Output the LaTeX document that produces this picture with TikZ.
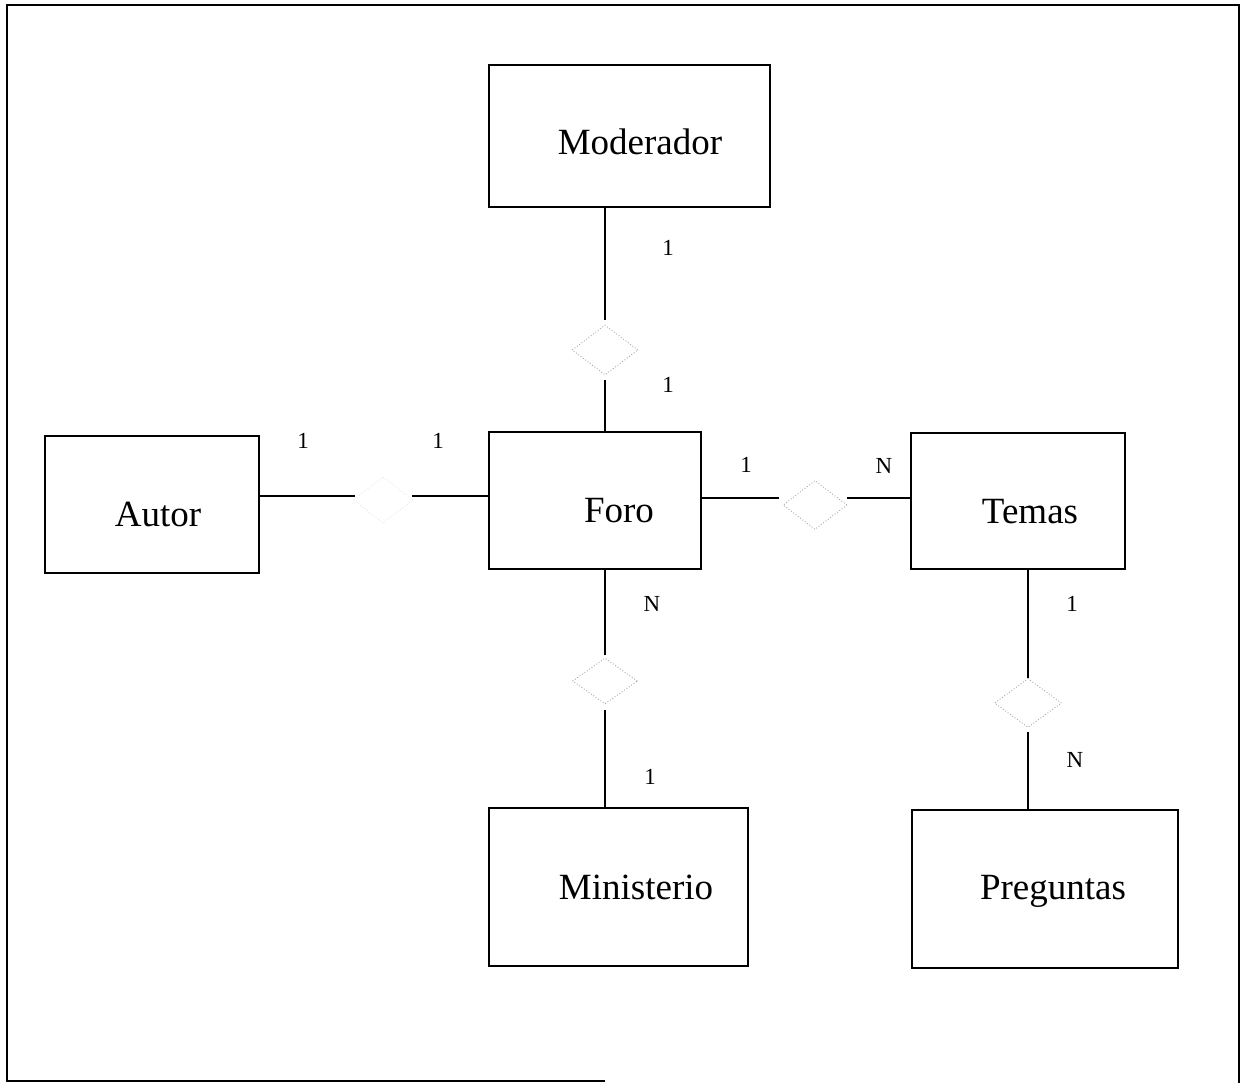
\documentclass[tikz,border=0pt]{standalone}
\usepackage{fontspec}
\setmainfont{Liberation Serif}
\usetikzlibrary{shapes.geometric}
\begin{document}
\begin{tikzpicture}[x=1pt,y=-1pt,
  entity/.style={draw, line width=1.6pt, inner sep=0pt},
  etext/.style={font=\fontsize{37}{40}\selectfont, anchor=base, inner sep=0pt},
  rel/.style={draw=black!35, dotted, line width=0.9pt, shape=diamond, inner sep=0pt},
  relfaint/.style={draw=black!12, dotted, line width=0.8pt, shape=diamond, inner sep=0pt},
  conn/.style={line width=1.6pt},
  card/.style={font=\fontsize{23}{25}\selectfont, inner sep=0pt}]
\useasboundingbox (0,0) rectangle (1246,1083);
% outer frame
\draw[line width=1.6pt] (605,1081) -- (7,1081) -- (7,5) -- (1239,5) -- (1239,1083);

% entities
\node[entity, minimum width=281pt, minimum height=142pt] (mod) at (629.5,136) {};
\node[entity, minimum width=214pt, minimum height=137pt] (aut) at (152,504.5) {};
\node[entity, minimum width=212pt, minimum height=137pt] (foro) at (595,500.5) {};
\node[entity, minimum width=214pt, minimum height=136pt] (tem) at (1018,501) {};
\node[entity, minimum width=259pt, minimum height=158pt] (min) at (618.5,887) {};
\node[entity, minimum width=266pt, minimum height=158pt] (pre) at (1045,889) {};

\node[etext] (tmod) at (640,155) {Moderador};
\node[etext] (taut) at (158,526) {Autor};
\node[etext] (tforo) at (619,522) {Foro};
\node[etext] (ttem) at (1030,523) {Temas};
\node[etext] (tmin) at (636,899) {Ministerio};
\node[etext] (tpre) at (1053,899) {Preguntas};

% relationships
\node[rel, minimum width=66pt, minimum height=50pt] (r1) at (605,350) {};
\node[relfaint, minimum width=60pt, minimum height=46pt] (r2) at (383,500) {};
\node[rel, minimum width=64pt, minimum height=49pt] (r3) at (815,505) {};
\node[rel, minimum width=65pt, minimum height=46pt] (r4) at (605,681) {};
\node[rel, minimum width=67pt, minimum height=49pt] (r5) at (1028,703) {};

% connectors
\draw[conn] (r1 |- mod.south) -- ([yshift=5pt]r1.north);
\draw[conn] ([yshift=-5pt]r1.south) -- (r1 |- foro.north);
\draw[conn] (aut.east |- 0,496) -- (355,496) coordinate (a1);
\draw[conn] (412,496) coordinate (a2) -- (foro.west |- 0,496);
\draw[conn] (foro.east |- 0,498) -- (779,498) coordinate (b1);
\draw[conn] (r3.east |- 0,498) -- (tem.west |- 0,498);
\draw[conn] (r4 |- foro.south) -- ([yshift=3pt]r4.north);
\draw[conn] ([yshift=-6pt]r4.south) -- (r4 |- min.north);
\draw[conn] (r5 |- tem.south) -- (r5.north);
\draw[conn] ([yshift=-4pt]r5.south) -- (r5 |- pre.north);

% cardinalities
\node[card] (c1) at (668,248) {1};
\node[card] (c2) at (668,385) {1};
\node[card] (c3) at (303,441) {1};
\node[card] (c4) at (438,441) {1};
\node[card] (c5) at (746,465) {1};
\node[card] (c6) at (884,466) {N};
\node[card] (c7) at (652,604) {N};
\node[card] (c8) at (650,777) {1};
\node[card] (c9) at (1072,604) {1};
\node[card] (c10) at (1075,760) {N};
\end{tikzpicture}
\end{document}
